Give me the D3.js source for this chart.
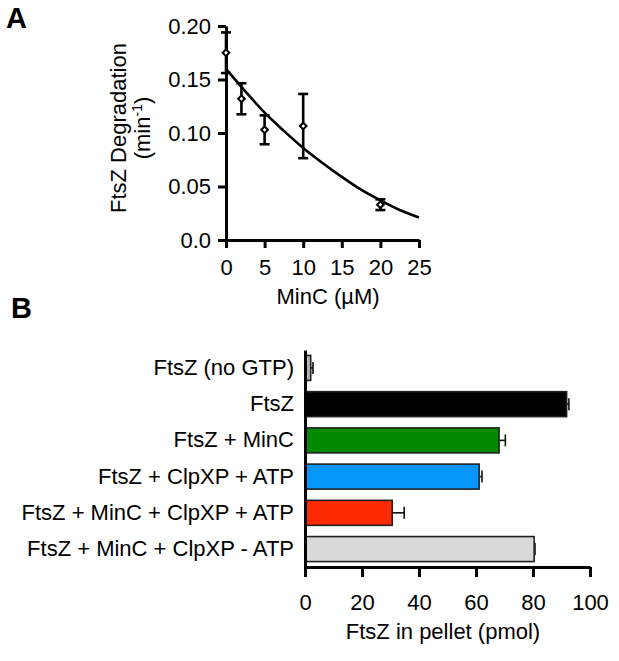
<!DOCTYPE html>
<html>
<head>
<meta charset="utf-8">
<script src="https://cdn.jsdelivr.net/npm/d3@7"></script>
<style>
  body { margin: 0; background: #fff; }
  svg { display: block; }
  text { font-family: "Liberation Sans", Arial, sans-serif; fill: #000; }
</style>
</head>
<body>
<svg id="chart" width="619" height="661"></svg>
<script>
// ---------- Panel A data ----------
const minC = [0, 2, 5, 10, 20];
const degradation = [0.175, 0.132, 0.103, 0.1065, 0.033];
const degradationErr = [0.019, 0.0145, 0.0135, 0.030, 0.005];
const fitX = [0, 2.5, 5, 7.5, 10, 12.5, 15, 17.5, 20, 22.5, 25];
const fitY = [0.160, 0.139, 0.119, 0.102, 0.086, 0.072, 0.059, 0.047, 0.037, 0.028, 0.021];
const xTicksA = [0, 5, 10, 15, 20, 25];
const yTicksA = [0, 0.05, 0.10, 0.15, 0.20];
const yTickLabelsA = ["0.0", "0.05", "0.10", "0.15", "0.20"];

// ---------- Panel B data ----------
const conditions = [
  "FtsZ (no GTP)",
  "FtsZ",
  "FtsZ + MinC",
  "FtsZ + ClpXP + ATP",
  "FtsZ + MinC + ClpXP + ATP",
  "FtsZ + MinC + ClpXP - ATP"
];
const pellet = [2.0, 91.8, 68.1, 61.1, 30.6, 80.4];
const pelletErr = [0.8, 0.8, 2.2, 1.0, 4.2, 0.3];
const barColors = ["#b4b4b4", "#000000", "#038a03", "#0796fb", "#fe2a00", "#d9d9d9"];
const xTicksB = [0, 20, 40, 60, 80, 100];

const FONT = 22;
const svg = d3.select("#chart");

// =================== Panel A ===================
const xA = d3.scaleLinear().domain([0, 25]).range([226, 419]);
const yA = d3.scaleLinear().domain([0, 0.2]).range([240, 26]);

const gA = svg.append("g");

const axA_y = gA.append("g")
  .attr("transform", `translate(${xA(0)},0)`)
  .call(d3.axisLeft(yA).tickValues(yTicksA)
    .tickFormat((d, i) => yTickLabelsA[i])
    .tickSize(8).tickSizeOuter(0).tickPadding(7));
const axA_x = gA.append("g")
  .attr("transform", `translate(0,${yA(0)})`)
  .call(d3.axisBottom(xA).tickValues(xTicksA)
    .tickSize(8).tickSizeOuter(0).tickPadding(11));

[axA_y, axA_x].forEach(ax => {
  ax.select(".domain").attr("stroke", "#000").attr("stroke-width", 3);
  ax.selectAll(".tick line").attr("stroke", "#000").attr("stroke-width", 3);
  ax.selectAll(".tick text").attr("font-size", FONT)
    .attr("font-family", '"Liberation Sans", Arial, sans-serif');
});

// fitted curve
const fitData = fitX.map((x, i) => ({ x, y: fitY[i] }));
gA.append("path")
  .datum(fitData)
  .attr("fill", "none")
  .attr("stroke", "#000")
  .attr("stroke-width", 2.6)
  .attr("d", d3.line().x(d => xA(d.x)).y(d => yA(d.y)).curve(d3.curveMonotoneX));

// error bars
const ptsA = minC.map((x, i) => ({ x, y: degradation[i], e: degradationErr[i] }));
const eb = gA.append("g").attr("stroke", "#000").attr("stroke-width", 2.6);
ptsA.forEach(d => {
  const cx = xA(d.x);
  eb.append("line").attr("x1", cx).attr("x2", cx)
    .attr("y1", yA(d.y - d.e)).attr("y2", yA(d.y + d.e));
  eb.append("line").attr("x1", cx - 5).attr("x2", cx + 5)
    .attr("y1", yA(d.y + d.e)).attr("y2", yA(d.y + d.e));
  eb.append("line").attr("x1", cx - 5).attr("x2", cx + 5)
    .attr("y1", yA(d.y - d.e)).attr("y2", yA(d.y - d.e));
});

// markers (open diamonds)
gA.selectAll("path.pt").data(ptsA).join("path")
  .attr("class", "pt")
  .attr("d", d3.symbol(d3.symbolSquare, 22)())
  .attr("transform", d => `translate(${xA(d.x)},${yA(d.y)}) rotate(45)`)
  .attr("fill", "#fff").attr("stroke", "#000").attr("stroke-width", 2);

// axis titles A
gA.append("text").attr("transform", "translate(126,128) rotate(-90)")
  .attr("text-anchor", "middle").attr("font-size", FONT).text("FtsZ Degradation");
const t2 = gA.append("text").attr("transform", "translate(150,128) rotate(-90)")
  .attr("text-anchor", "middle").attr("font-size", FONT);
t2.append("tspan").text("(min");
t2.append("tspan").attr("font-size", 14).attr("dy", -8).text("-1");
t2.append("tspan").attr("dy", 8).text(")");
gA.append("text").attr("x", 328).attr("y", 304).attr("text-anchor", "middle")
  .attr("font-size", FONT).text("MinC (\u00b5M)");

// panel letters
svg.append("text").attr("x", 6).attr("y", 28).attr("font-size", 29)
  .attr("font-weight", "bold").text("A");
svg.append("text").attr("x", 11).attr("y", 318).attr("font-size", 29)
  .attr("font-weight", "bold").text("B");

// =================== Panel B ===================
const xB = d3.scaleLinear().domain([0, 100]).range([305, 590]);
const yB = d3.scaleBand().domain(conditions).range([350, 567])
  .paddingInner(0.31).paddingOuter(0.15);

const gB = svg.append("g");

const bars = conditions.map((c, i) => ({ c, v: pellet[i], e: pelletErr[i], col: barColors[i] }));

// error bars (upper only)
const ebB = gB.append("g").attr("stroke", "#111").attr("stroke-width", 1.6);
bars.forEach(d => {
  const cy = yB(d.c) + yB.bandwidth() / 2;
  ebB.append("line").attr("x1", xB(d.v)).attr("x2", xB(d.v + d.e))
    .attr("y1", cy).attr("y2", cy);
  ebB.append("line").attr("x1", xB(d.v + d.e)).attr("x2", xB(d.v + d.e))
    .attr("y1", cy - 6).attr("y2", cy + 6);
});

gB.selectAll("rect.bar").data(bars).join("rect")
  .attr("class", "bar")
  .attr("x", xB(0))
  .attr("y", d => yB(d.c))
  .attr("width", d => xB(d.v) - xB(0))
  .attr("height", yB.bandwidth())
  .attr("fill", d => d.col)
  .attr("stroke", "#222")
  .attr("stroke-width", 1.6);

const axB_y = gB.append("g")
  .attr("transform", `translate(${xB(0)},0)`)
  .call(d3.axisLeft(yB).tickSize(0).tickSizeOuter(0).tickPadding(11));
const axB_x = gB.append("g")
  .attr("transform", `translate(0,567)`)
  .call(d3.axisBottom(xB).tickValues(xTicksB).tickSize(10).tickSizeOuter(0).tickPadding(17));

[axB_y, axB_x].forEach(ax => {
  ax.select(".domain").attr("stroke", "#000").attr("stroke-width", 3);
  ax.selectAll(".tick line").attr("stroke", "#000").attr("stroke-width", 3);
  ax.selectAll(".tick text").attr("font-size", FONT)
    .attr("font-family", '"Liberation Sans", Arial, sans-serif');
});

gB.append("text").attr("x", 443).attr("y", 639).attr("text-anchor", "middle")
  .attr("font-size", FONT).text("FtsZ in pellet (pmol)");
</script>
</body>
</html>
